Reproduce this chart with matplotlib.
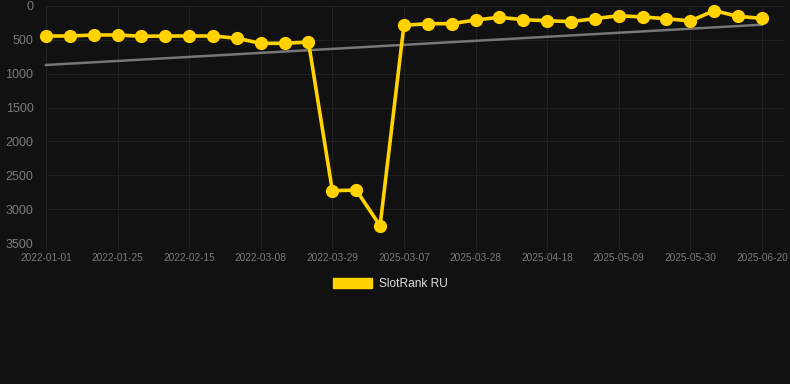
import matplotlib
matplotlib.use("Agg")
import matplotlib.pyplot as plt
from matplotlib.patches import Patch

dates = [
    "2022-01-01", "2022-01-11", "2022-01-18", "2022-01-25", "2022-02-01", "2022-02-08",
    "2022-02-15", "2022-02-22", "2022-03-01", "2022-03-08", "2022-03-15", "2022-03-22",
    "2022-03-29", "2022-04-05", "2022-04-12", "2025-03-07", "2025-03-14", "2025-03-21",
    "2025-03-28", "2025-04-04", "2025-04-11", "2025-04-18", "2025-04-25", "2025-05-02",
    "2025-05-09", "2025-05-16", "2025-05-23", "2025-05-30", "2025-06-06", "2025-06-13",
    "2025-06-20",
]
ranks = [443, 443, 428, 428, 447, 443, 443, 443, 477, 551, 551, 532,
         2728, 2718, 3245, 285, 261, 261, 207, 167, 202, 217, 231, 187,
         143, 162, 187, 221, 69, 153, 182]
trend_start, trend_end = 871, 276
series_label = "SlotRank RU"
y_ticks = [0, 500, 1000, 1500, 2000, 2500, 3000, 3500]

bg = "#111111"
gold = "#FFD200"
fams = ["Liberation Sans", "DejaVu Sans"]
plt.rcParams["font.family"] = fams
fig = plt.figure(figsize=(7.9, 3.84), dpi=100, facecolor=bg)
ax = fig.add_axes([46 / 790, 1 - 243 / 384, 739 / 790, 237 / 384])
ax.set_facecolor(bg)

xs = list(range(len(ranks)))
ax.plot([xs[0], xs[-1]], [trend_start, trend_end], color="#777777", lw=1.8, zorder=2,
        clip_on=False)
ax.plot(xs, ranks, color=gold, lw=2.6, marker="o", ms=8.5, markerfacecolor=gold,
        markeredgecolor=gold, zorder=3, clip_on=False)

ax.set_ylim(3500, 0)
ax.set_xlim(0, 30.97)
ax.set_yticks(y_ticks)
ax.set_yticklabels([str(v) for v in y_ticks], fontsize=9, color="#7a7a7a", family=fams)
tick_idx = list(range(0, len(dates), 3))
ax.set_xticks(tick_idx)
ax.set_xticklabels([dates[i] for i in tick_idx], fontsize=7.3, color="#7a7a7a", family=fams)
ax.grid(True, color="#202020", lw=0.8)
ax.tick_params(axis="y", length=0, pad=9)
ax.tick_params(axis="x", length=5, color="#202020", pad=2)
for s in ax.spines.values():
    s.set_visible(False)

leg = fig.legend(handles=[Patch(facecolor=gold, edgecolor=gold, label=series_label)],
                 loc="center", bbox_to_anchor=(390 / 790, 1 - 284 / 384), frameon=False,
                 handlelength=3.3, handleheight=0.95, handletextpad=0.55,
                 prop={"family": fams, "size": 8.6})
for t in leg.get_texts():
    t.set_color("#e0e0e0")

fig.savefig("out.png", dpi=100, facecolor=bg)
